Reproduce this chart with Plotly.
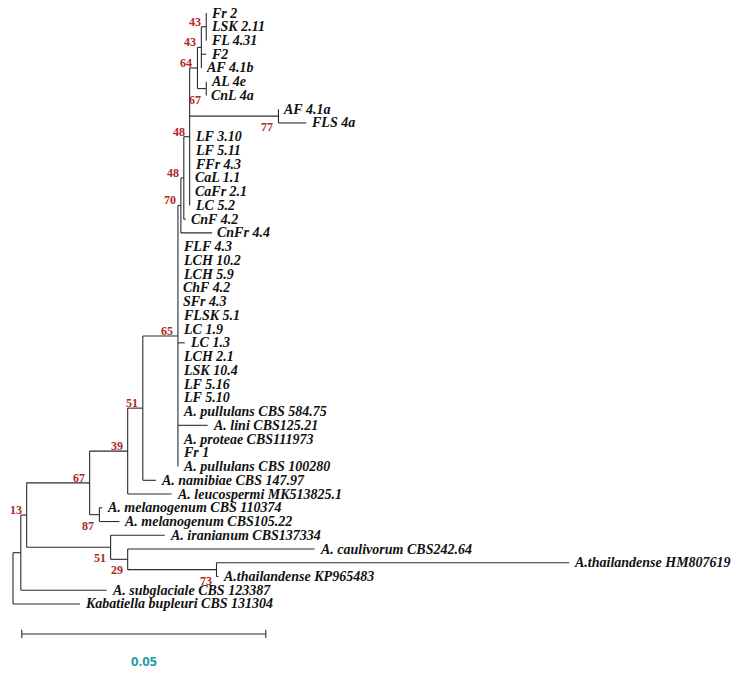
import plotly.graph_objects as go

# tree edges: child, parent, branch length (substitutions/site)
nodes = [
    "nA", "Kabatiella bupleuri CBS 131304",
    "nB", "A. subglaciale CBS 123387",
    "n67c", "n51l",
    "n39", "n87",
    "n51u", "A. leucospermi MK513825.1",
    "n65", "A. namibiae CBS 147.97",
    "n70", "FLF 4.3", "LCH 10.2", "LCH 5.9", "ChF 4.2", "SFr 4.3", "FLSK 5.1",
    "LC 1.9", "LC 1.3", "LCH 2.1", "LSK 10.4", "LF 5.16", "LF 5.10",
    "A. pullulans CBS 584.75", "A. lini CBS125.21", "A. proteae CBS111973",
    "Fr 1", "A. pullulans CBS 100280",
    "n48b", "CnFr 4.4",
    "n48a", "CnF 4.2",
    "n64", "n77", "LF 3.10", "LF 5.11", "FFr 4.3", "CaL 1.1", "CaFr 2.1", "LC 5.2",
    "n43b", "n67t",
    "n43a", "F2", "AF 4.1b",
    "Fr 2", "LSK 2.11", "FL 4.31",
    "AL 4e", "CnL 4a",
    "AF 4.1a", "FLS 4a",
    "A. melanogenum CBS 110374", "A. melanogenum CBS105.22",
    "A. iranianum CBS137334", "n29",
    "A. caulivorum CBS242.64", "n73",
    "A.thailandense HM807619", "A.thailandense KP965483",
]
parents = [
    "root", "root",
    "nA", "nA",
    "nB", "nB",
    "n67c", "n67c",
    "n39", "n39",
    "n51u", "n51u",
    "n65", "n65", "n65", "n65", "n65", "n65", "n65",
    "n65", "n65", "n65", "n65", "n65", "n65",
    "n65", "n65", "n65",
    "n65", "n65",
    "n70", "n70",
    "n48b", "n48b",
    "n48a", "n48a", "n48a", "n48a", "n48a", "n48a", "n48a", "n48a",
    "n64", "n64",
    "n43b", "n43b", "n43b",
    "n43a", "n43a", "n43a",
    "n67t", "n67t",
    "n77", "n77",
    "n87", "n87",
    "n51l", "n51l",
    "n29", "n29",
    "n73", "n73",
]
lengths = [
    0.0016, 0.0137,
    0.0012, 0.0176,
    0.0129, 0.0172,
    0.0078, 0.0020,
    0.0031, 0.0090,
    0.0072, 0.0027,
    0.0006, 0, 0, 0, 0, 0, 0,
    0, 0.0014, 0, 0, 0, 0,
    0, 0.0061, 0,
    0, 0,
    0.0006, 0.0064,
    0.0012, 0.0004,
    0.0016, 0.0182, 0, 0, 0, 0, 0, 0,
    0.0008, 0.0018,
    0.0010, 0.0010, 0,
    0, 0, 0,
    0, 0,
    0, 0.0057,
    0.0006, 0.0041,
    0.0111, 0.0035,
    0.0383, 0.0182,
    0.0723, 0.0004,
]
support = {
    "n43a": 43, "n43b": 43, "n64": 64, "n67t": 67, "n77": 77,
    "n48a": 48, "n48b": 48, "n70": 70, "n65": 65, "n51u": 51,
    "n39": 39, "n67c": 67, "nB": 13, "n87": 87, "n51l": 51,
    "n29": 29, "n73": 73,
}
scale_len = 0.05

# --- layout of the tree ---
kids = {}
for c, p, l in zip(nodes, parents, lengths):
    kids.setdefault(p, []).append((c, l))

xpos, ypos, tips = {"root": 0.0}, {}, []


def walk(n):
    for c, l in kids.get(n, []):
        xpos[c] = xpos[n] + l
        walk(c)
    if n not in kids:
        ypos[n] = len(tips)
        tips.append(n)
    else:
        ch = kids[n]
        ypos[n] = (ypos[ch[0][0]] + ypos[ch[-1][0]]) / 2


walk("root")

lx, ly = [], []
for n, ch in kids.items():
    lx += [xpos[n], xpos[n], None]
    ly += [ypos[ch[0][0]], ypos[ch[-1][0]], None]
    for c, _ in ch:
        lx += [xpos[n], xpos[c], None]
        ly += [ypos[c], ypos[c], None]

# scale bar
bar_y = len(tips) + 1.18
bar_x0 = 0.0018
lx += [bar_x0, bar_x0 + scale_len, None, bar_x0, bar_x0, None,
       bar_x0 + scale_len, bar_x0 + scale_len, None]
ly += [bar_y, bar_y, None, bar_y - 0.3, bar_y + 0.3, None, bar_y - 0.3, bar_y + 0.3, None]

fig = go.Figure(go.Scatter(x=lx, y=ly, mode="lines",
                           line=dict(color="#2b2b2b", width=1.1),
                           hoverinfo="skip", showlegend=False))

for t in tips:
    fig.add_annotation(x=xpos[t], y=ypos[t], text="<b><i>%s</i></b>" % t,
                       xanchor="left", yanchor="middle", xshift=3, showarrow=False,
                       font=dict(family="Liberation Serif", size=14, color="#111"))

below = {"n67t", "n77", "n87", "n51l", "n29", "n73"}
for n, v in support.items():
    fig.add_annotation(x=xpos[n], y=ypos[n], text="<b>%d</b>" % v,
                       xanchor="right", yanchor="middle", xshift=-3,
                       yshift=-11 if n in below else 5, showarrow=False,
                       font=dict(family="Liberation Serif", size=12, color="#b3261e"))

fig.add_annotation(x=bar_x0 + scale_len / 2, y=bar_y + 1.97, text="<b>0.05</b>",
                   showarrow=False, xanchor="center", yanchor="middle",
                   font=dict(family="Open Sans", size=13, color="#1d9ea3"))

# page body adds an 8px margin, so the figure is a bit smaller and shifted
px_per_unit = 244 / scale_len
step = 13.744
fig.update_xaxes(visible=False, range=[-5 / px_per_unit, 728 / px_per_unit])
fig.update_yaxes(visible=False, range=[(665 - 5) / step, -5 / step])
fig.update_layout(width=733, height=665, margin=dict(l=0, r=0, t=0, b=0),
                  plot_bgcolor="white", paper_bgcolor="white")

fig.write_html("out.html")
